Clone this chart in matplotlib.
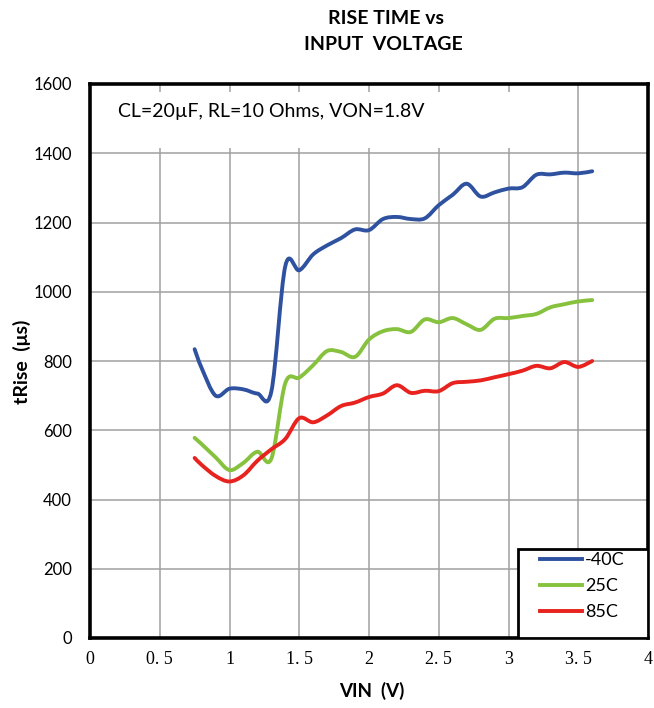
import matplotlib.pyplot as plt
from matplotlib.patches import Rectangle, PathPatch
from matplotlib.path import Path
from matplotlib.lines import Line2D

# input voltage sweep (V)
vin = [0.75, 0.8, 0.9, 1.0, 1.1, 1.2, 1.3, 1.4, 1.5, 1.6, 1.7, 1.8, 1.9, 2.0, 2.1,
       2.2, 2.3, 2.4, 2.5, 2.6, 2.7, 2.8, 2.9, 3.0, 3.1, 3.2, 3.3, 3.4, 3.5, 3.6]

# rise time (us) per temperature
t_m40 = [834, 780, 700, 720, 718, 706, 712, 1074, 1062, 1108, 1134, 1155, 1180, 1178, 1210,
         1216, 1210, 1212, 1250, 1280, 1312, 1275, 1287, 1298, 1302, 1338, 1339, 1344, 1342, 1348]
t_25 = [578, 560, 522, 485, 506, 538, 518, 736, 752, 788, 829, 826, 812, 862, 886,
        892, 884, 920, 912, 924, 906, 890, 922, 924, 930, 936, 955, 964, 972, 976]
t_85 = [520, 500, 468, 452, 470, 512, 545, 575, 635, 623, 643, 670, 680, 696, 706,
        730, 708, 714, 713, 736, 740, 744, 753, 762, 772, 786, 779, 797, 783, 800]

labels = ["-40C", "25C", "85C"]
colors = ["#2F52A0", "#86C23E", "#E8221E"]

xticks = [0, 0.5, 1, 1.5, 2, 2.5, 3, 3.5, 4]
xticklabels = ["0", "0. 5", "1", "1. 5", "2", "2. 5", "3", "3. 5", "4"]
yticks = [0, 200, 400, 600, 800, 1000, 1200, 1400, 1600]

SANS = ["Lato", "DejaVu Sans"]


def smooth_path(xs, ys):
    # Excel-style smoothed line: cubic Bezier through every point
    pts = list(zip(xs, ys))
    verts = [pts[0]]
    codes = [Path.MOVETO]
    n = len(pts)
    for i in range(n - 1):
        p0 = pts[max(i - 1, 0)]
        p1 = pts[i]
        p2 = pts[i + 1]
        p3 = pts[min(i + 2, n - 1)]
        c1 = (p1[0] + (p2[0] - p0[0]) / 6, p1[1] + (p2[1] - p0[1]) / 6)
        c2 = (p2[0] - (p3[0] - p1[0]) / 6, p2[1] - (p3[1] - p1[1]) / 6)
        verts += [c1, c2, p2]
        codes += [Path.CURVE4] * 3
    return Path(verts, codes)


def main():
    plt.rcParams["font.family"] = SANS
    fig = plt.figure(figsize=(6.54, 7.08), dpi=100)
    ax = fig.add_axes([90 / 654, 1 - 638 / 708, 558 / 654, 554 / 708])

    ax.set_xlim(0, 4)
    ax.set_ylim(0, 1600)
    ax.set_xticks(xticks)
    ax.set_xticklabels(xticklabels, family="Liberation Serif", fontsize=13)
    ax.set_yticks(yticks)
    ax.tick_params(axis="y", length=0, pad=13, labelsize=12)
    ax.tick_params(axis="x", length=0, pad=9)
    ax.grid(True, color="#A0A0A0", lw=1.1, zorder=0)
    ax.set_axisbelow(True)
    for s in ax.spines.values():
        s.set_linewidth(2.6)
        s.set_color("black")
        s.set_zorder(5)

    # white box behind the condition note (hides the grid there)
    ax.add_patch(Rectangle((0, 0.885), 0.815, 0.1, transform=ax.transAxes,
                           facecolor="white", edgecolor="none", zorder=1))
    ax.text(28 / 558, (638 - 112) / 554, "CL=20µF, RL=10 Ohms, VON=1.8V",
            transform=ax.transAxes, fontsize=14, va="center", ha="left", zorder=2)

    handles = []
    for y, lab, c in zip([t_m40, t_25, t_85], labels, colors):
        ax.add_patch(PathPatch(smooth_path(vin, y), facecolor="none", edgecolor=c,
                               lw=2.8, zorder=3, capstyle="round", joinstyle="round"))
        handles.append(Line2D([], [], color=c, lw=2.8, label=lab))

    # legend box in the lower right corner
    ax.add_patch(Rectangle((428 / 558, 0), 130 / 558, 89 / 554, transform=ax.transAxes,
                           facecolor="white", edgecolor="black", lw=2, zorder=6))
    leg = ax.legend(handles=handles, loc="upper left",
                    bbox_to_anchor=(450 / 558, (638 - 552) / 554), frameon=False,
                    borderaxespad=0, borderpad=0, fontsize=13,
                    handlelength=2.3, handletextpad=0.2, labelspacing=0.55)
    leg.set_zorder(7)

    fig.text(386 / 654, 1 - 18 / 708, "RISE TIME vs", ha="center", va="center",
             fontsize=14, fontweight="bold")
    fig.text(383 / 654, 1 - 45 / 708, "INPUT  VOLTAGE", ha="center", va="center",
             fontsize=14, fontweight="bold")
    fig.text(372 / 654, 1 - 691 / 708, "VIN  (V)", ha="center", va="center",
             fontsize=13.5, fontweight="bold")
    fig.text(22 / 654, 1 - 362 / 708, "tRise  (μs)", ha="center", va="center",
             fontsize=14, fontweight="bold", rotation=90)

    plt.savefig("out.png", dpi=100)
    plt.close()


if __name__ == "__main__":
    main()
